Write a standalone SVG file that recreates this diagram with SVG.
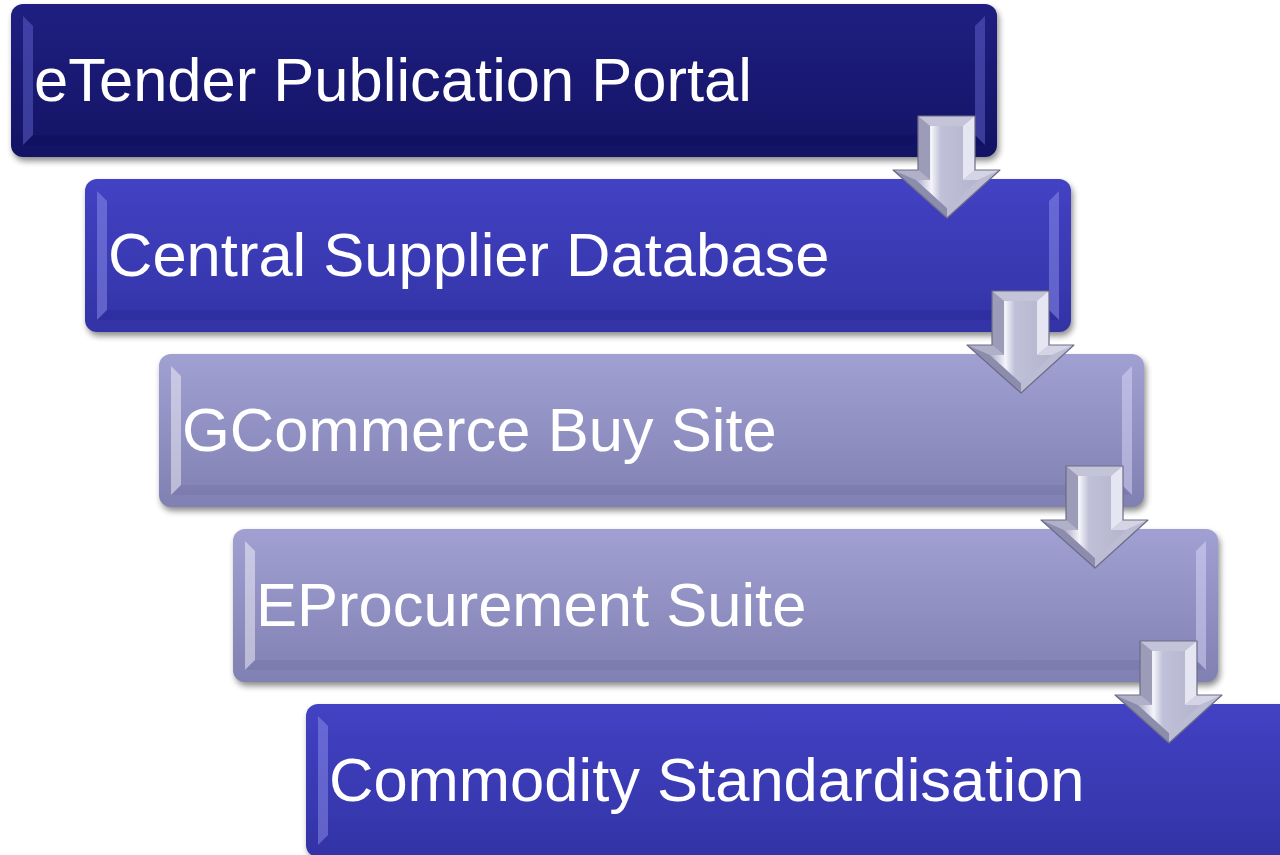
<svg xmlns="http://www.w3.org/2000/svg" width="1280" height="855" viewBox="0 0 1280 855">
<defs>
<filter id="sh" x="-5%" y="-20%" width="110%" height="140%"><feGaussianBlur stdDeviation="3"/></filter>
<linearGradient id="gDark" x1="0" y1="0" x2="0" y2="1"><stop offset="0" stop-color="#1f1f82"/><stop offset="1" stop-color="#131364"/></linearGradient>
<linearGradient id="gMid" x1="0" y1="0" x2="0" y2="1"><stop offset="0" stop-color="#4242c4"/><stop offset="1" stop-color="#3333a6"/></linearGradient>
<linearGradient id="gLight" x1="0" y1="0" x2="0" y2="1"><stop offset="0" stop-color="#a0a0d2"/><stop offset="1" stop-color="#8080b2"/></linearGradient>
<linearGradient id="gArrow" x1="0" y1="0" x2="1" y2="0"><stop offset="0" stop-color="#aaaac6"/><stop offset="0.25" stop-color="#f4f4fa"/><stop offset="0.4" stop-color="#c0c0d8"/><stop offset="1" stop-color="#b4b4cc"/></linearGradient>
<g id="arrow">
<polygon points="918,116 975,116 975,170 1000,170 947,218 893,170 918,170" fill="#b8b8d0"/>
<polygon points="918,116 975,116 963,126 930,126" fill="#c4c4d8"/>
<polygon points="918,116 930,126 930,180 918,170" fill="#9c9cb8"/>
<polygon points="975,116 975,170 963,180 963,126" fill="#e6e6f2"/>
<polygon points="918,170 930,180 916,180 893,170" fill="#b0b0c8"/>
<polygon points="975,170 1000,170 978,180 963,180" fill="#d4d4e4"/>
<polygon points="893,170 916,180 947,208 947,218" fill="#8c8cac"/>
<polygon points="1000,170 947,218 947,208 978,180" fill="#bcbcd4"/>
<polygon points="930,126 963,126 963,180 978,180 947,208 916,180 930,180" fill="url(#gArrow)"/>
<polygon points="918,116 975,116 975,170 1000,170 947,218 893,170 918,170" fill="none" stroke="#6c6c88" stroke-width="1.2" stroke-linejoin="round"/>
</g>
</defs>
<style>
.lbl{font-family:"Liberation Sans",Arial,sans-serif;font-size:61.5px;fill:#ffffff}
.shadow{fill:#000;opacity:0.45}
.bl{opacity:0.45}
.bb{opacity:0.1}
</style>

<g id="node1">
<rect class="shadow" x="13" y="8" width="986" height="153" rx="12" filter="url(#sh)"/>
<rect x="11" y="4" width="986" height="153" rx="12" fill="url(#gDark)"/>
<polygon points="23,16 33,26 33,135 23,145" fill="#6a6ad8" class="bl"/>
<polygon points="985,16 975,26 975,135 985,145" fill="#6a6ad8" class="bl"/>
<polygon points="23,145 33,135 975,135 985,145" fill="#000040" class="bb"/>
<text class="lbl" x="34" y="101">eTender Publication Portal</text>
</g>

<g id="node2">
<rect class="shadow" x="87" y="183" width="986" height="153" rx="12" filter="url(#sh)"/>
<rect x="85" y="179" width="986" height="153" rx="12" fill="url(#gMid)"/>
<polygon points="97,191 107,201 107,310 97,320" fill="#9a9af0" class="bl"/>
<polygon points="1059,191 1049,201 1049,310 1059,320" fill="#9a9af0" class="bl"/>
<polygon points="97,320 107,310 1049,310 1059,320" fill="#000060" class="bb"/>
<text class="lbl" x="108" y="276">Central Supplier Database</text>
</g>

<g id="node3">
<rect class="shadow" x="161" y="358" width="985" height="153" rx="12" filter="url(#sh)"/>
<rect x="159" y="354" width="985" height="153" rx="12" fill="url(#gLight)"/>
<polygon points="171,366 181,376 181,485 171,495" fill="#ffffff" class="bl"/>
<polygon points="1132,366 1122,376 1122,485 1132,495" fill="#e0e0ff" class="bl"/>
<polygon points="171,495 181,485 1122,485 1132,495" fill="#404080" class="bb"/>
<text class="lbl" x="182" y="451">GCommerce Buy Site</text>
</g>

<g id="node4">
<rect class="shadow" x="235" y="533" width="985" height="153" rx="12" filter="url(#sh)"/>
<rect x="233" y="529" width="985" height="153" rx="12" fill="url(#gLight)"/>
<polygon points="245,541 255,551 255,660 245,670" fill="#ffffff" class="bl"/>
<polygon points="1206,541 1196,551 1196,660 1206,670" fill="#e0e0ff" class="bl"/>
<polygon points="245,670 255,660 1196,660 1206,670" fill="#404080" class="bb"/>
<text class="lbl" x="256" y="626">EProcurement Suite</text>
</g>

<g id="node5">
<rect class="shadow" x="308" y="708" width="986" height="153" rx="12" filter="url(#sh)"/>
<rect x="306" y="704" width="986" height="153" rx="12" fill="url(#gMid)"/>
<polygon points="318,716 328,726 328,835 318,845" fill="#9a9af0" class="bl"/>
<text class="lbl" x="329" y="801">Commodity Standardisation</text>
</g>

<g id="connectors">
<use href="#arrow"/>
<use href="#arrow" transform="translate(74,175)"/>
<use href="#arrow" transform="translate(148,350)"/>
<use href="#arrow" transform="translate(222,525)"/>
</g>
</svg>
